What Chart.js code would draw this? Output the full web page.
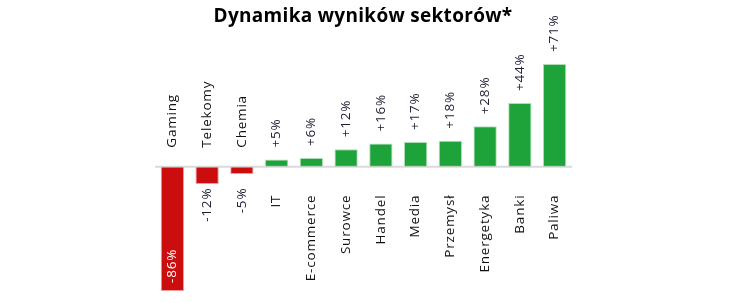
<!DOCTYPE html>
<html>
<head>
<meta charset="utf-8">
<script src="https://cdn.jsdelivr.net/npm/chart.js@4"></script>
<style>
  html, body { margin: 0; padding: 0; background: #fff; }
  #wrap { width: 750px; height: 303px; }
</style>
</head>
<body>
<div id="wrap"><canvas id="chart" width="750" height="303"></canvas></div>
<script>
const title = "Dynamika wyników sektorów*";
const sectors = ["Gaming", "Telekomy", "Chemia", "IT", "E-commerce", "Surowce",
  "Handel", "Media", "Przemysł", "Energetyka", "Banki", "Paliwa"];
const growth = [-86, -12, -5, 5, 6, 12, 16, 17, 18, 28, 44, 71];

const red = "#cc0d0d";
const green = "#1ea23a";
const font = "'Open Sans', sans-serif";

// rotated text helper, reads bottom -> top
function upText(ctx, text, x, y, align, color) {
  ctx.save();
  ctx.translate(x, y);
  ctx.rotate(-Math.PI / 2);
  ctx.textAlign = align;
  ctx.textBaseline = "middle";
  ctx.fillStyle = color;
  ctx.fillText(text, 0, 0);
  ctx.restore();
}

const labelsPlugin = {
  id: "labels",
  afterDatasetsDraw: chart => {
    const ctx = chart.ctx;
    const xs = chart.scales.x;
    const ys = chart.scales.y;
    const zero = ys.getPixelForValue(0);
    const area = chart.chartArea;

    // axis line
    ctx.save();
    ctx.beginPath();
    ctx.moveTo(area.left, zero);
    ctx.lineTo(area.right, zero);
    ctx.lineWidth = 2;
    ctx.strokeStyle = "rgba(205,205,205,0.75)";
    ctx.stroke();
    ctx.restore();

    ctx.save();
    ctx.font = "13.5px " + font;
    ctx.letterSpacing = "0.8px";
    growth.forEach((v, i) => {
      const x = xs.getPixelForValue(i);
      const txt = (v > 0 ? "+" : "") + v + "%";
      if (v >= 0) {
        upText(ctx, txt, x, ys.getPixelForValue(v) - 12, "left", "#1d1d35");
        upText(ctx, sectors[i], x, zero + 28, "right", "#111");
      } else {
        upText(ctx, sectors[i], x, zero - 19, "left", "#111");
        const bottom = ys.getPixelForValue(v);
        if (bottom - zero > 60) {
          upText(ctx, txt, x, bottom - 8, "left", "#fff");
        } else {
          upText(ctx, txt, x, zero + 21, "right", "#1d1d35");
        }
      }
    });
    ctx.restore();

    // title
    ctx.save();
    ctx.font = "bold 19px " + font;
    ctx.letterSpacing = "0.3px";
    ctx.textAlign = "center";
    ctx.textBaseline = "middle";
    ctx.fillStyle = "#000";
    ctx.fillText(title, 363, 17);
    ctx.restore();
  }
};

new Chart(document.getElementById("chart"), {
  type: "bar",
  data: {
    labels: sectors,
    datasets: [{
      data: growth,
      backgroundColor: growth.map(v => v < 0 ? red : green),
      borderColor: growth.map(v => v < 0 ? "rgba(230,90,90,0.6)" : "rgba(120,200,130,0.6)"),
      borderWidth: 1,
      categoryPercentage: 1,
      barPercentage: 0.67
    }]
  },
  options: {
    responsive: false,
    animation: false,
    layout: { padding: { left: 155, right: 178, top: 64, bottom: 12 } },
    plugins: {
      legend: { display: false },
      tooltip: { enabled: false },
      title: { display: false }
    },
    scales: {
      x: { display: false },
      y: { display: false, min: -86, max: 71 }
    }
  },
  plugins: [labelsPlugin]
});
</script>
</body>
</html>
